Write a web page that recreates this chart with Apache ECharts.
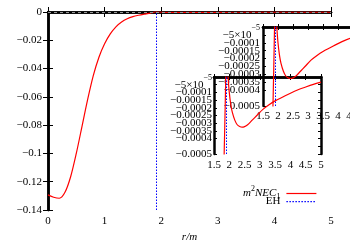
<!DOCTYPE html>
<html><head><meta charset="utf-8">
<script src="https://cdn.jsdelivr.net/npm/echarts@6/dist/echarts.min.js"></script>
<style>html,body{margin:0;padding:0;background:#fff}#c{width:350px;height:245px}</style>
</head><body><div id="c"></div>
<script>
// radius r/m
const rValues = [0, 0.1, 0.2, 0.3, 0.4, 0.5, 0.6, 0.7, 0.8, 0.9, 1.0, 1.1, 1.2, 1.3, 1.4, 1.5, 1.6, 1.7, 1.76, 1.8, 1.83, 1.86, 1.89, 1.91, 1.93, 1.96, 2.0, 2.05, 2.1, 2.18, 2.26, 2.34, 2.42, 2.5, 2.6, 2.75, 2.9, 3.1, 3.3, 3.5, 3.75, 4.0, 4.25, 4.5, 4.75, 5.0];
// m^2 NEC_1
const necValues = [-0.1293, -0.1310, -0.1317, -0.1275, -0.1165, -0.100, -0.081, -0.062, -0.045, -0.032, -0.0225, -0.0155, -0.0105, -0.0071, -0.0048, -0.0033, -0.0023, -0.0015, -0.0011, -0.0008, -0.00052, -0.00025, 0.00005, 0.0002, 0.0001, 0.0, -0.0001, -0.00018, -0.00023, -0.00028, -0.00031, -0.000322, -0.000326, -0.000322, -0.00031, -0.00028, -0.00025, -0.00021, -0.00018, -0.000155, -0.00013, -0.000105, -0.000083, -0.000065, -0.000048, -0.000033];
const rEH = 1.91;
const mainXTicks = ['0', '1', '2', '3', '4', '5'];
const mainYTicks = ['0', '−0.02', '−0.04', '−0.06', '−0.08', '−0.1', '−0.12', '−0.14'];
const insetXTicks = ['1.5', '2', '2.5', '3', '3.5', '4', '4.5', '5'];
const insetYTicks = ['0', '{b|−5×10}{s|−5}', '−0.0001', '−0.00015', '−0.0002', '−0.00025', '−0.0003', '−0.00035', '−0.0004', '−0.00045', '−0.0005'];

const FONT = 'Liberation Serif';
const RED = '#ff0000', BLUE = '#0000ff';
const pts = rValues.map((r, i) => [r, necValues[i]]);

const grids = [
  {left: 48, top: 12, width: 283, height: 198, outerBoundsMode: 'none'},
  {left: 214, top: 77, width: 107, height: 77, outerBoundsMode: 'none'},
  {left: 263, top: 27, width: 105, height: 79, outerBoundsMode: 'none'}
];
const xAxes = [], yAxes = [];
function addAxes(g, xr, yr, xfmt, yfmt, tick, xm, ym, yMaxLabel) {
  const line = {show: true, lineStyle: {color: '#000', width: 2.5}};
  const lab = {color: '#000', fontFamily: FONT, fontSize: 11, showMinLabel: true, hideOverlap: false};
  const base = (r) => ({min: r[0], max: r[1], interval: r[2], splitLine: {show: false}, axisLine: line,
    axisTick: {show: true, inside: true, length: tick, lineStyle: {color: '#000', width: 1}}});
  xAxes.push(Object.assign(base(xr), {type: 'value', gridIndex: g, position: 'bottom',
    axisLabel: Object.assign({}, lab, {showMaxLabel: true, margin: xm, formatter: xfmt})}));
  xAxes.push(Object.assign(base(xr), {type: 'value', gridIndex: g, position: 'top', axisLabel: {show: false}}));
  yAxes.push(Object.assign(base(yr), {type: 'value', gridIndex: g, position: 'left',
    axisLabel: Object.assign({}, lab, {showMaxLabel: yMaxLabel, margin: ym, formatter: yfmt,
      rich: {b: {fontFamily: FONT, fontSize: 11, color: '#000'},
             s: {fontFamily: FONT, fontSize: 8, color: '#000', padding: [0, 0, 14, 0]}}})}));
  yAxes.push(Object.assign(base(yr), {type: 'value', gridIndex: g, position: 'right', axisLabel: {show: false}}));
}
addAxes(0, [0, 5, 1], [-0.14, 0, 0.02], v => mainXTicks[Math.round(v)], v => mainYTicks[Math.round(-v / 0.02)], 5, 6, 6, true);
addAxes(1, [1.5, 5, 0.5], [-0.0005, 0, 0.00005], v => insetXTicks[Math.round((v - 1.5) / 0.5)], v => insetYTicks[Math.round(-v / 0.00005)], 3, 6, 2, null);
addAxes(2, [1.5, 5, 0.5], [-0.0005, 0, 0.00005], v => insetXTicks[Math.round((v - 1.5) / 0.5)], v => insetYTicks[Math.round(-v / 0.00005)], 3, 5, 3, null);
xAxes[0].name = 'r/m';
xAxes[0].nameLocation = 'middle';
xAxes[0].nameGap = 21;
xAxes[0].nameTextStyle = {fontFamily: FONT, fontSize: 11, fontStyle: 'italic', color: '#000'};

const series = [];
[0, 1, 2].forEach(g => {
  const curve = {name: 'nec', type: 'line', xAxisIndex: 2 * g, yAxisIndex: 2 * g, data: pts,
    symbol: 'none', smooth: 0.3, clip: true, lineStyle: {color: RED, width: 1.2}, itemStyle: {color: RED}, z: 3};
  if (g === 0) curve.markLine = {silent: true, symbol: 'none', label: {show: false},
    lineStyle: {color: '#999', type: [3, 3], width: 1}, data: [{yAxis: 0}]};
  series.push(curve);
  series.push({name: 'EH', type: 'line', xAxisIndex: 2 * g, yAxisIndex: 2 * g, data: [],
    symbol: 'none', lineStyle: {color: BLUE, type: [1.5, 1.5], width: 1}, itemStyle: {color: BLUE},
    markLine: {silent: true, symbol: 'none', label: {show: false},
      lineStyle: {color: BLUE, type: [1.5, 1.5], width: 1}, data: [{xAxis: rEH}]}});
});

const legBase = {orient: 'vertical', right: 33, align: 'right', padding: 0, itemWidth: 30, itemHeight: 14,
  itemStyle: {opacity: 0, borderWidth: 0}, lineStyle: {width: 1.2},
  textStyle: {fontFamily: FONT, fontSize: 11, color: '#000', padding: [0, 1, 0, 0]}, selectedMode: false};
const legends = [
  Object.assign({}, legBase, {top: 185, data: ['nec'], formatter: () => '{i|m}{p|2}{i|NEC}{d|1}',
    textStyle: Object.assign({}, legBase.textStyle, {rich: {
      i: {fontFamily: FONT, fontSize: 11, fontStyle: 'italic', color: '#000'},
      p: {fontFamily: FONT, fontSize: 8, color: '#000', padding: [0, 0, 9, 0]},
      d: {fontFamily: FONT, fontSize: 8, color: '#000', padding: [7, 0, 0, 0]}}})}),
  Object.assign({}, legBase, {top: 196, data: ['EH']})
];

const chart = echarts.init(document.getElementById('c'), null, {renderer: 'canvas'});
chart.setOption({animation: false, backgroundColor: '#fff', grid: grids, xAxis: xAxes, yAxis: yAxes,
  legend: legends, series: series});
</script></body></html>
